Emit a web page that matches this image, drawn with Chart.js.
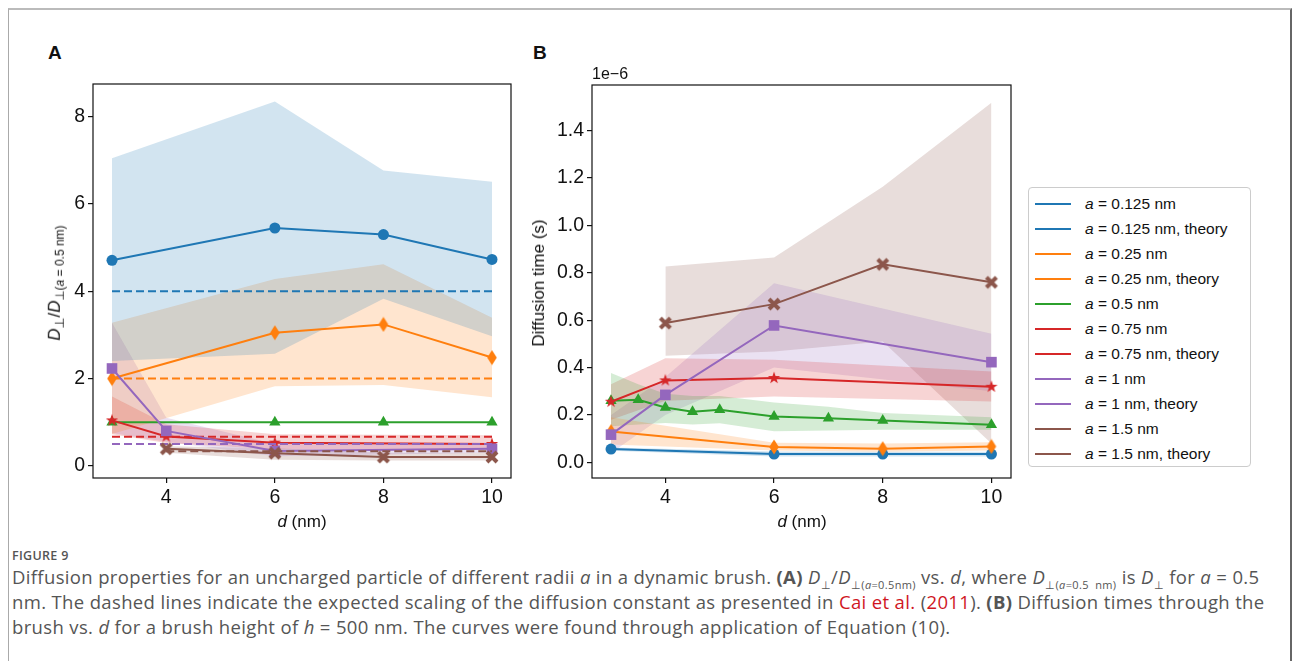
<!DOCTYPE html>
<html>
<head>
<meta charset="utf-8">
<script src="https://cdn.jsdelivr.net/npm/chart.js@4.4.0/dist/chart.umd.min.js"></script>
<style>
body { margin: 0; background: #fff; width: 1293px; height: 661px; position: relative; overflow: hidden; font-family: "Liberation Sans", Arial, sans-serif; color: #111; }
.frame { position: absolute; left: 8px; top: 8px; width: 1281px; height: 670px; border-left: 1px solid #aaa; border-top: 2px solid #bbb; border-right: 2px solid #666; }
canvas { position: absolute; }
.lbl { position: absolute; white-space: nowrap; }
.panel { font-weight: bold; font-size: 19px; }
.rot { transform: translate(-50%, -50%) rotate(-90deg); }
.ctr { transform: translate(-50%, -50%); }
.legend { position: absolute; left: 1028px; top: 187px; width: 223px; height: 280px; border: 1px solid #ccc; border-radius: 4px; box-sizing: border-box; }
.legend .row { position: absolute; left: 6px; height: 20px; font-size: 15.5px; white-space: nowrap; }
.legend .sw { position: absolute; left: 0; top: 9px; width: 36px; height: 2px; }
.legend .tx { position: absolute; left: 50px; top: 0; line-height: 20px; }
.cap { position: absolute; left: 12px; font-family: "Open Sans", "Noto Sans", sans-serif; color: #555; white-space: nowrap; }
.cap .red { color: #d0161f; }
.cap sub { font-size: 11px; }
.line { font-size: 18.5px; letter-spacing: 0.35px; }
</style>
</head>
<body>
<div class="frame"></div>

<div class="lbl panel" style="left:48px; top:42px;">A</div>
<div class="lbl panel" style="left:533px; top:42px;">B</div>

<canvas id="chartA" width="490" height="470" style="left:30px; top:60px;"></canvas>
<canvas id="chartB" width="500" height="470" style="left:520px; top:60px;"></canvas>

<div class="lbl rot" style="left:56px; top:283px; font-size:17px;"><i>D</i><sub style="font-size:13px">⊥</sub>/<i>D</i><sub style="font-size:12px">⊥(<i>a</i> = 0.5 nm)</sub></div>
<div class="lbl ctr" style="left:302px; top:522px; font-size:17px;"><i>d</i> (nm)</div>
<div class="lbl ctr" style="left:802px; top:522px; font-size:17px;"><i>d</i> (nm)</div>
<div class="lbl rot" style="left:539px; top:283px; font-size:17px;">Diffusion time (s)</div>
<div class="lbl" style="left:592px; top:65px; font-size:16px;">1e−6</div>

<div class="legend" id="legend"></div>

<div class="cap" style="top:547px; font-size:12.5px; letter-spacing:0.3px; font-weight:600;">FIGURE 9</div>
<div class="cap line" style="top:564px;">Diffusion properties for an uncharged particle of different radii <i>a</i> in a dynamic brush. <b>(A)</b> <i>D</i><sub>⊥</sub>/<i>D</i><sub>⊥(<i>a</i>=0.5nm)</sub> vs. <i>d</i>, where <i>D</i><sub>⊥(<i>a</i>=0.5&nbsp; nm)</sub> is <i>D</i><sub>⊥</sub> for <i>a</i> = 0.5</div>
<div class="cap line" style="top:589px;">nm. The dashed lines indicate the expected scaling of the diffusion constant as presented in <span class="red">Cai et al.</span> (<span class="red">2011</span>). <b>(B)</b> Diffusion times through the</div>
<div class="cap line" style="top:614px;">brush vs. <i>d</i> for a brush height of <i>h</i> = 500 nm. The curves were found through application of Equation (10).</div>

<script>
// tick labels
const xTicks = [4, 6, 8, 10]
const yTicksA = [0, 2, 4, 6, 8]
const yTicksB = [0, 0.2, 0.4, 0.6, 0.8, 1.0, 1.2, 1.4]

// panel A: D_perp / D_perp(a=0.5nm)
const blueA_d = [3, 6, 8, 10]
const blueA_y = [4.71, 5.45, 5.30, 4.73]
const blueA_hi = [7.05, 8.35, 6.77, 6.51]
const blueA_lo = [2.40, 2.57, 3.83, 2.97]

const orangeA_d = [3, 6, 8, 10]
const orangeA_y = [2.00, 3.05, 3.24, 2.48]
const orangeA_hi = [3.28, 4.28, 4.62, 3.39]
const orangeA_lo = [0.73, 1.82, 1.85, 1.57]

const greenA_d = [3, 6, 8, 10]
const greenA_y = [1.0, 1.0, 1.0, 1.0]

const redA_d = [3, 4, 6, 10]
const redA_y = [1.04, 0.67, 0.53, 0.50]
const redA_hi = [1.59, 0.95, 0.72, 0.70]
const redA_lo = [0.72, 0.52, 0.38, 0.36]

const purpleA_d = [3, 4, 6, 10]
const purpleA_y = [2.23, 0.80, 0.34, 0.39]
const purpleA_hi = [3.28, 1.10, 0.50, 0.50]
const purpleA_lo = [0.75, 0.55, 0.22, 0.30]

const brownA_d = [4, 6, 8, 10]
const brownA_y = [0.39, 0.29, 0.20, 0.20]
const brownA_hi = [0.45, 0.40, 0.30, 0.30]
const brownA_lo = [0.30, 0.14, 0.12, 0.12]

// expected scaling (dashed)
const theoryA = [4.0, 2.0, 0.667, 0.5, 0.333]

// panel B: diffusion time (units of 1e-6 s)
const blueB_d = [3, 6, 8, 10]
const blueB_y = [0.056, 0.035, 0.035, 0.035]
const blueB_hi = [0.063, 0.046, 0.045, 0.045]
const blueB_lo = [0.049, 0.025, 0.025, 0.025]

const orangeB_d = [3, 6, 8, 10]
const orangeB_y = [0.130, 0.065, 0.058, 0.067]
const orangeB_hi = [0.190, 0.083, 0.080, 0.085]
const orangeB_lo = [0.075, 0.050, 0.045, 0.050]

const greenB_d = [3, 3.5, 4, 4.5, 5, 6, 7, 8, 10]
const greenB_y = [0.260, 0.264, 0.232, 0.214, 0.222, 0.194, 0.186, 0.177, 0.159]
const greenB_hi = [0.377, 0.330, 0.290, 0.280, 0.280, 0.253, 0.235, 0.208, 0.190]
const greenB_lo = [0.152, 0.160, 0.166, 0.160, 0.165, 0.131, 0.135, 0.138, 0.138]

const redB_d = [3, 4, 6, 10]
const redB_y = [0.256, 0.346, 0.356, 0.319]
const redB_hi = [0.330, 0.440, 0.433, 0.384]
const redB_lo = [0.180, 0.260, 0.278, 0.257]

const purpleB_d = [3, 4, 6, 10]
const purpleB_y = [0.117, 0.285, 0.578, 0.423]
const purpleB_hi = [0.200, 0.360, 0.756, 0.543]
const purpleB_lo = [0.040, 0.200, 0.400, 0.300]

const brownB_d = [4, 6, 8, 10]
const brownB_y = [0.588, 0.668, 0.836, 0.760]
const brownB_hi = [0.827, 0.865, 1.164, 1.518]
const brownB_lo = [0.450, 0.468, 0.510, 0.080]

const legendNames = ["a = 0.125 nm", "a = 0.125 nm, theory", "a = 0.25 nm", "a = 0.25 nm, theory", "a = 0.5 nm",
    "a = 0.75 nm", "a = 0.75 nm, theory", "a = 1 nm", "a = 1 nm, theory", "a = 1.5 nm", "a = 1.5 nm, theory"]
const legendColors = ["#1f77b4", "#1f77b4", "#ff7f0e", "#ff7f0e", "#2ca02c", "#d62728", "#d62728", "#9467bd", "#9467bd", "#8c564b", "#8c564b"]

const C = {
    blue: "#1f77b4", orange: "#ff7f0e", green: "#2ca02c",
    red: "#d62728", purple: "#9467bd", brown: "#8c564b"
}

function fade(hex, a) {
    const n = parseInt(hex.slice(1), 16)
    return `rgba(${(n >> 16) & 255},${(n >> 8) & 255},${n & 255},${a})`
}

// marker images for shapes chart.js doesn't have filled
function marker(kind, color) {
    const c = document.createElement("canvas")
    c.width = 16
    c.height = 16
    const g = c.getContext("2d")
    g.translate(8, 8)
    g.fillStyle = color
    g.strokeStyle = color
    if (kind === "star") {
        g.beginPath()
        for (let i = 0; i < 10; i++) {
            const r = i % 2 === 0 ? 6.5 : 2.6
            const ang = -Math.PI / 2 + i * Math.PI / 5
            g.lineTo(r * Math.cos(ang), r * Math.sin(ang))
        }
        g.closePath()
        g.fill()
    } else if (kind === "diamond") {
        g.beginPath()
        g.moveTo(0, -7.5)
        g.lineTo(4.8, 0)
        g.lineTo(0, 7.5)
        g.lineTo(-4.8, 0)
        g.closePath()
        g.fill()
    } else if (kind === "X") {
        g.lineWidth = 4
        g.beginPath()
        g.moveTo(-5, -5); g.lineTo(5, 5)
        g.moveTo(-5, 5); g.lineTo(5, -5)
        g.stroke()
    }
    return c
}

function pts(xs, ys) {
    return xs.map((x, i) => ({ x: x, y: ys[i] }))
}

function line(xs, ys, color, style, radius) {
    return {
        data: pts(xs, ys),
        borderColor: color,
        backgroundColor: color,
        borderWidth: 2,
        pointStyle: style,
        pointRadius: radius,
        pointHoverRadius: radius,
        pointBorderWidth: 0,
        fill: false,
        tension: 0
    }
}

function band(xs, hi, lo, color) {
    return [{
        data: pts(xs, hi),
        borderWidth: 0,
        pointRadius: 0,
        backgroundColor: fade(color, 0.2),
        fill: "+1",
        tension: 0
    }, {
        data: pts(xs, lo),
        borderWidth: 0,
        pointRadius: 0,
        fill: false,
        tension: 0
    }]
}

function dashed(xs, v, color) {
    return {
        data: [{ x: xs[0], y: v }, { x: xs[xs.length - 1], y: v }],
        borderColor: color,
        borderWidth: 2,
        borderDash: [8, 4],
        pointRadius: 0,
        fill: false
    }
}

const boxPlugin = {
    id: "box",
    afterDraw(chart) {
        const a = chart.chartArea
        const ctx = chart.ctx
        ctx.save()
        ctx.strokeStyle = "#111"
        ctx.lineWidth = 1.2
        ctx.strokeRect(a.left, a.top, a.right - a.left, a.bottom - a.top)
        ctx.restore()
    }
}

function options(xRange, yRange, yTicks, yFmt, yWidth, pad) {
    const tickFont = { family: "'Liberation Sans', Arial, sans-serif", size: 19.5 }
    return {
        responsive: false,
        animation: false,
        devicePixelRatio: 1,
        layout: { padding: pad },
        plugins: {
            legend: { display: false },
            tooltip: { enabled: false },
            filler: { drawTime: "beforeDatasetsDraw" }
        },
        scales: {
            x: {
                type: "linear",
                min: xRange[0],
                max: xRange[1],
                afterBuildTicks: s => { s.ticks = xTicks.map(v => ({ value: v })) },
                afterFit: s => { s.height = 52 },
                ticks: { font: tickFont, color: "#111", padding: 3, maxRotation: 0, callback: v => String(v) },
                grid: { drawOnChartArea: false, tickLength: 5, tickColor: "#111", lineWidth: 1.2 },
                border: { display: false }
            },
            y: {
                type: "linear",
                min: yRange[0],
                max: yRange[1],
                afterBuildTicks: s => { s.ticks = yTicks.map(v => ({ value: v })) },
                afterFit: s => { s.width = yWidth },
                ticks: { font: tickFont, color: "#111", padding: 3, callback: yFmt },
                grid: { drawOnChartArea: false, tickLength: 5, tickColor: "#111", lineWidth: 1.2 },
                border: { display: false }
            }
        }
    }
}

const star = c => marker("star", c)
const diamond = c => marker("diamond", c)
const cross = c => marker("X", c)

const datasetsA = [
    ...band(blueA_d, blueA_hi, blueA_lo, C.blue),
    ...band(orangeA_d, orangeA_hi, orangeA_lo, C.orange),
    ...band(redA_d, redA_hi, redA_lo, C.red),
    ...band(purpleA_d, purpleA_hi, purpleA_lo, C.purple),
    ...band(brownA_d, brownA_hi, brownA_lo, C.brown),
    line(brownA_d, brownA_y, C.brown, cross(C.brown), 6),
    dashed(brownA_d, theoryA[4], C.brown),
    line(purpleA_d, purpleA_y, C.purple, "rect", 7.5),
    dashed(purpleA_d, theoryA[3], C.purple),
    line(redA_d, redA_y, C.red, star(C.red), 6),
    dashed(redA_d, theoryA[2], C.red),
    line(greenA_d, greenA_y, C.green, "triangle", 6.5),
    line(orangeA_d, orangeA_y, C.orange, diamond(C.orange), 6),
    dashed(orangeA_d, theoryA[1], C.orange),
    line(blueA_d, blueA_y, C.blue, "circle", 5.5),
    dashed(blueA_d, theoryA[0], C.blue)
]

const datasetsB = [
    ...band(blueB_d, blueB_hi, blueB_lo, C.blue),
    ...band(orangeB_d, orangeB_hi, orangeB_lo, C.orange),
    ...band(greenB_d, greenB_hi, greenB_lo, C.green),
    ...band(redB_d, redB_hi, redB_lo, C.red),
    ...band(purpleB_d, purpleB_hi, purpleB_lo, C.purple),
    ...band(brownB_d, brownB_hi, brownB_lo, C.brown),
    line(brownB_d, brownB_y, C.brown, cross(C.brown), 6),
    line(purpleB_d, purpleB_y, C.purple, "rect", 7.5),
    line(redB_d, redB_y, C.red, star(C.red), 6),
    line(greenB_d, greenB_y, C.green, "triangle", 6.5),
    line(orangeB_d, orangeB_y, C.orange, diamond(C.orange), 6),
    line(blueB_d, blueB_y, C.blue, "circle", 5.5)
]

new Chart(document.getElementById("chartA"), {
    type: "line",
    data: { datasets: datasetsA },
    options: options([2.65, 10.35], [-0.28, 8.75], yTicksA, v => String(v), 63, { left: 0, top: 24, right: 9, bottom: 0 }),
    plugins: [boxPlugin]
})

new Chart(document.getElementById("chartB"), {
    type: "line",
    data: { datasets: datasetsB },
    options: options([2.65, 10.36], [-0.066, 1.593], yTicksB, v => v.toFixed(1), 72, { left: 0, top: 25, right: 9, bottom: 0 }),
    plugins: [boxPlugin]
})

// legend
const legend = document.getElementById("legend")
legendNames.forEach((name, i) => {
    const row = document.createElement("div")
    row.className = "row"
    row.style.top = (6 + i * 25) + "px"
    const label = name.replace(/^a /, "<i>a</i> ")
    row.innerHTML = `<span class="sw" style="background:${legendColors[i]}"></span><span class="tx">${label}</span>`
    legend.appendChild(row)
})
</script>
</body>
</html>
